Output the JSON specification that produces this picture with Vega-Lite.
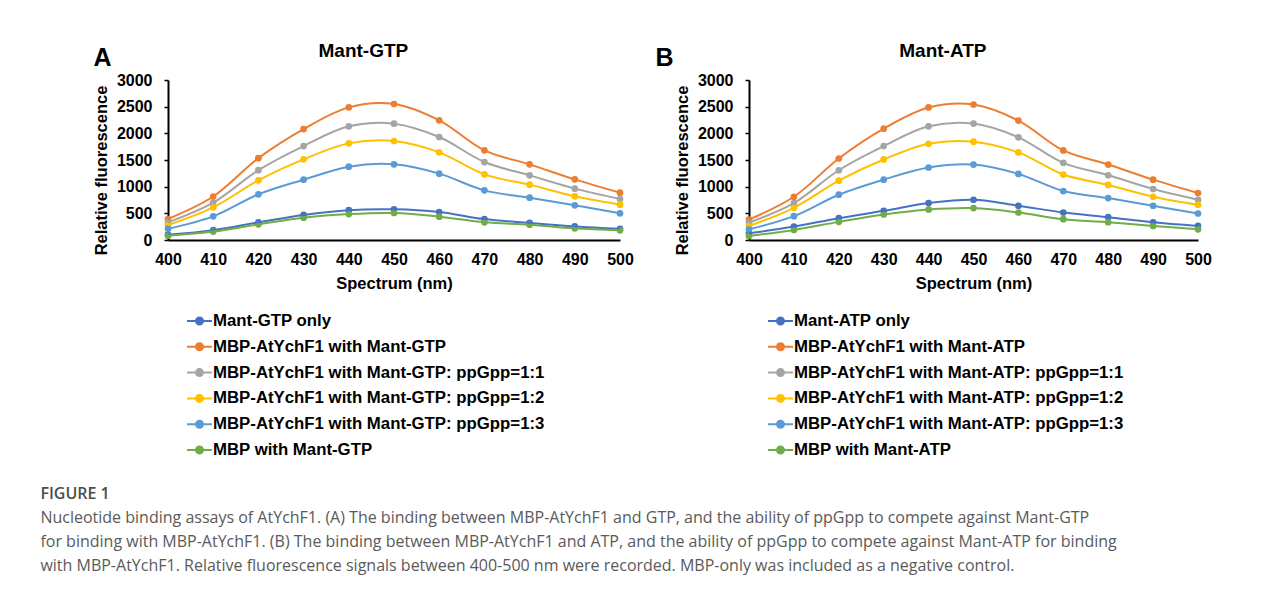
{
"$schema": "https://vega.github.io/schema/vega-lite/v6.json",
"background": "white",
"padding": {"left": 40, "top": 42, "right": 5, "bottom": 5},
"datasets": {
"gtp": [
{"s":"Mant-GTP only","nm":400,"v":100},{"s":"Mant-GTP only","nm":410,"v":185},{"s":"Mant-GTP only","nm":420,"v":330},{"s":"Mant-GTP only","nm":430,"v":470},{"s":"Mant-GTP only","nm":440,"v":560},{"s":"Mant-GTP only","nm":450,"v":575},{"s":"Mant-GTP only","nm":460,"v":525},{"s":"Mant-GTP only","nm":470,"v":392},{"s":"Mant-GTP only","nm":480,"v":320},{"s":"Mant-GTP only","nm":490,"v":255},{"s":"Mant-GTP only","nm":500,"v":210},
{"s":"MBP-AtYchF1 with Mant-GTP","nm":400,"v":394},{"s":"MBP-AtYchF1 with Mant-GTP","nm":410,"v":815},{"s":"MBP-AtYchF1 with Mant-GTP","nm":420,"v":1535},{"s":"MBP-AtYchF1 with Mant-GTP","nm":430,"v":2080},{"s":"MBP-AtYchF1 with Mant-GTP","nm":440,"v":2487},{"s":"MBP-AtYchF1 with Mant-GTP","nm":450,"v":2550},{"s":"MBP-AtYchF1 with Mant-GTP","nm":460,"v":2243},{"s":"MBP-AtYchF1 with Mant-GTP","nm":470,"v":1681},{"s":"MBP-AtYchF1 with Mant-GTP","nm":480,"v":1418},{"s":"MBP-AtYchF1 with Mant-GTP","nm":490,"v":1137},{"s":"MBP-AtYchF1 with Mant-GTP","nm":500,"v":888},
{"s":"MBP-AtYchF1 with Mant-GTP: ppGpp=1:1","nm":400,"v":331},{"s":"MBP-AtYchF1 with Mant-GTP: ppGpp=1:1","nm":410,"v":700},{"s":"MBP-AtYchF1 with Mant-GTP: ppGpp=1:1","nm":420,"v":1310},{"s":"MBP-AtYchF1 with Mant-GTP: ppGpp=1:1","nm":430,"v":1762},{"s":"MBP-AtYchF1 with Mant-GTP: ppGpp=1:1","nm":440,"v":2131},{"s":"MBP-AtYchF1 with Mant-GTP: ppGpp=1:1","nm":450,"v":2181},{"s":"MBP-AtYchF1 with Mant-GTP: ppGpp=1:1","nm":460,"v":1931},{"s":"MBP-AtYchF1 with Mant-GTP: ppGpp=1:1","nm":470,"v":1462},{"s":"MBP-AtYchF1 with Mant-GTP: ppGpp=1:1","nm":480,"v":1212},{"s":"MBP-AtYchF1 with Mant-GTP: ppGpp=1:1","nm":490,"v":963},{"s":"MBP-AtYchF1 with Mant-GTP: ppGpp=1:1","nm":500,"v":769},
{"s":"MBP-AtYchF1 with Mant-GTP: ppGpp=1:2","nm":400,"v":281},{"s":"MBP-AtYchF1 with Mant-GTP: ppGpp=1:2","nm":410,"v":612},{"s":"MBP-AtYchF1 with Mant-GTP: ppGpp=1:2","nm":420,"v":1119},{"s":"MBP-AtYchF1 with Mant-GTP: ppGpp=1:2","nm":430,"v":1512},{"s":"MBP-AtYchF1 with Mant-GTP: ppGpp=1:2","nm":440,"v":1812},{"s":"MBP-AtYchF1 with Mant-GTP: ppGpp=1:2","nm":450,"v":1856},{"s":"MBP-AtYchF1 with Mant-GTP: ppGpp=1:2","nm":460,"v":1643},{"s":"MBP-AtYchF1 with Mant-GTP: ppGpp=1:2","nm":470,"v":1231},{"s":"MBP-AtYchF1 with Mant-GTP: ppGpp=1:2","nm":480,"v":1038},{"s":"MBP-AtYchF1 with Mant-GTP: ppGpp=1:2","nm":490,"v":819},{"s":"MBP-AtYchF1 with Mant-GTP: ppGpp=1:2","nm":500,"v":663},
{"s":"MBP-AtYchF1 with Mant-GTP: ppGpp=1:3","nm":400,"v":212},{"s":"MBP-AtYchF1 with Mant-GTP: ppGpp=1:3","nm":410,"v":444},{"s":"MBP-AtYchF1 with Mant-GTP: ppGpp=1:3","nm":420,"v":856},{"s":"MBP-AtYchF1 with Mant-GTP: ppGpp=1:3","nm":430,"v":1131},{"s":"MBP-AtYchF1 with Mant-GTP: ppGpp=1:3","nm":440,"v":1375},{"s":"MBP-AtYchF1 with Mant-GTP: ppGpp=1:3","nm":450,"v":1419},{"s":"MBP-AtYchF1 with Mant-GTP: ppGpp=1:3","nm":460,"v":1244},{"s":"MBP-AtYchF1 with Mant-GTP: ppGpp=1:3","nm":470,"v":931},{"s":"MBP-AtYchF1 with Mant-GTP: ppGpp=1:3","nm":480,"v":794},{"s":"MBP-AtYchF1 with Mant-GTP: ppGpp=1:3","nm":490,"v":650},{"s":"MBP-AtYchF1 with Mant-GTP: ppGpp=1:3","nm":500,"v":500},
{"s":"MBP with Mant-GTP","nm":400,"v":80},{"s":"MBP with Mant-GTP","nm":410,"v":158},{"s":"MBP with Mant-GTP","nm":420,"v":294},{"s":"MBP with Mant-GTP","nm":430,"v":419},{"s":"MBP with Mant-GTP","nm":440,"v":487},{"s":"MBP with Mant-GTP","nm":450,"v":506},{"s":"MBP with Mant-GTP","nm":460,"v":438},{"s":"MBP with Mant-GTP","nm":470,"v":331},{"s":"MBP with Mant-GTP","nm":480,"v":288},{"s":"MBP with Mant-GTP","nm":490,"v":219},{"s":"MBP with Mant-GTP","nm":500,"v":181}
],
"atp": [
{"s":"Mant-ATP only","nm":400,"v":126},{"s":"Mant-ATP only","nm":410,"v":252},{"s":"Mant-ATP only","nm":420,"v":409},{"s":"Mant-ATP only","nm":430,"v":547},{"s":"Mant-ATP only","nm":440,"v":692},{"s":"Mant-ATP only","nm":450,"v":755},{"s":"Mant-ATP only","nm":460,"v":642},{"s":"Mant-ATP only","nm":470,"v":516},{"s":"Mant-ATP only","nm":480,"v":428},{"s":"Mant-ATP only","nm":490,"v":333},{"s":"Mant-ATP only","nm":500,"v":264},
{"s":"MBP-AtYchF1 with Mant-ATP","nm":400,"v":384},{"s":"MBP-AtYchF1 with Mant-ATP","nm":410,"v":811},{"s":"MBP-AtYchF1 with Mant-ATP","nm":420,"v":1528},{"s":"MBP-AtYchF1 with Mant-ATP","nm":430,"v":2088},{"s":"MBP-AtYchF1 with Mant-ATP","nm":440,"v":2485},{"s":"MBP-AtYchF1 with Mant-ATP","nm":450,"v":2541},{"s":"MBP-AtYchF1 with Mant-ATP","nm":460,"v":2239},{"s":"MBP-AtYchF1 with Mant-ATP","nm":470,"v":1679},{"s":"MBP-AtYchF1 with Mant-ATP","nm":480,"v":1415},{"s":"MBP-AtYchF1 with Mant-ATP","nm":490,"v":1132},{"s":"MBP-AtYchF1 with Mant-ATP","nm":500,"v":881},
{"s":"MBP-AtYchF1 with Mant-ATP: ppGpp=1:1","nm":400,"v":327},{"s":"MBP-AtYchF1 with Mant-ATP: ppGpp=1:1","nm":410,"v":692},{"s":"MBP-AtYchF1 with Mant-ATP: ppGpp=1:1","nm":420,"v":1308},{"s":"MBP-AtYchF1 with Mant-ATP: ppGpp=1:1","nm":430,"v":1761},{"s":"MBP-AtYchF1 with Mant-ATP: ppGpp=1:1","nm":440,"v":2132},{"s":"MBP-AtYchF1 with Mant-ATP: ppGpp=1:1","nm":450,"v":2183},{"s":"MBP-AtYchF1 with Mant-ATP: ppGpp=1:1","nm":460,"v":1925},{"s":"MBP-AtYchF1 with Mant-ATP: ppGpp=1:1","nm":470,"v":1447},{"s":"MBP-AtYchF1 with Mant-ATP: ppGpp=1:1","nm":480,"v":1214},{"s":"MBP-AtYchF1 with Mant-ATP: ppGpp=1:1","nm":490,"v":956},{"s":"MBP-AtYchF1 with Mant-ATP: ppGpp=1:1","nm":500,"v":755},
{"s":"MBP-AtYchF1 with Mant-ATP: ppGpp=1:2","nm":400,"v":264},{"s":"MBP-AtYchF1 with Mant-ATP: ppGpp=1:2","nm":410,"v":604},{"s":"MBP-AtYchF1 with Mant-ATP: ppGpp=1:2","nm":420,"v":1113},{"s":"MBP-AtYchF1 with Mant-ATP: ppGpp=1:2","nm":430,"v":1510},{"s":"MBP-AtYchF1 with Mant-ATP: ppGpp=1:2","nm":440,"v":1805},{"s":"MBP-AtYchF1 with Mant-ATP: ppGpp=1:2","nm":450,"v":1843},{"s":"MBP-AtYchF1 with Mant-ATP: ppGpp=1:2","nm":460,"v":1642},{"s":"MBP-AtYchF1 with Mant-ATP: ppGpp=1:2","nm":470,"v":1227},{"s":"MBP-AtYchF1 with Mant-ATP: ppGpp=1:2","nm":480,"v":1032},{"s":"MBP-AtYchF1 with Mant-ATP: ppGpp=1:2","nm":490,"v":811},{"s":"MBP-AtYchF1 with Mant-ATP: ppGpp=1:2","nm":500,"v":660},
{"s":"MBP-AtYchF1 with Mant-ATP: ppGpp=1:3","nm":400,"v":201},{"s":"MBP-AtYchF1 with Mant-ATP: ppGpp=1:3","nm":410,"v":447},{"s":"MBP-AtYchF1 with Mant-ATP: ppGpp=1:3","nm":420,"v":849},{"s":"MBP-AtYchF1 with Mant-ATP: ppGpp=1:3","nm":430,"v":1132},{"s":"MBP-AtYchF1 with Mant-ATP: ppGpp=1:3","nm":440,"v":1359},{"s":"MBP-AtYchF1 with Mant-ATP: ppGpp=1:3","nm":450,"v":1415},{"s":"MBP-AtYchF1 with Mant-ATP: ppGpp=1:3","nm":460,"v":1239},{"s":"MBP-AtYchF1 with Mant-ATP: ppGpp=1:3","nm":470,"v":918},{"s":"MBP-AtYchF1 with Mant-ATP: ppGpp=1:3","nm":480,"v":786},{"s":"MBP-AtYchF1 with Mant-ATP: ppGpp=1:3","nm":490,"v":642},{"s":"MBP-AtYchF1 with Mant-ATP: ppGpp=1:3","nm":500,"v":497},
{"s":"MBP with Mant-ATP","nm":400,"v":75},{"s":"MBP with Mant-ATP","nm":410,"v":189},{"s":"MBP with Mant-ATP","nm":420,"v":340},{"s":"MBP with Mant-ATP","nm":430,"v":478},{"s":"MBP with Mant-ATP","nm":440,"v":572},{"s":"MBP with Mant-ATP","nm":450,"v":598},{"s":"MBP with Mant-ATP","nm":460,"v":516},{"s":"MBP with Mant-ATP","nm":470,"v":390},{"s":"MBP with Mant-ATP","nm":480,"v":333},{"s":"MBP with Mant-ATP","nm":490,"v":264},{"s":"MBP with Mant-ATP","nm":500,"v":201}
]
},
"title": {
"text": "FIGURE 1",
"subtitle": [
"Nucleotide binding assays of AtYchF1. (A) The binding between MBP-AtYchF1 and GTP, and the ability of ppGpp to compete against Mant-GTP",
"for binding with MBP-AtYchF1. (B) The binding between MBP-AtYchF1 and ATP, and the ability of ppGpp to compete against Mant-ATP for binding",
"with MBP-AtYchF1. Relative fluorescence signals between 400-500 nm were recorded. MBP-only was included as a negative control."
],
"orient": "bottom", "anchor": "start", "frame": "bounds", "offset": 26, "dx": -53,
"font": "Open Sans", "fontSize": 16, "fontWeight": 600, "color": "#4d4d4d",
"subtitleFont": "Open Sans", "subtitleFontSize": 16, "subtitleColor": "#5a5a5a", "subtitleLineHeight": 24, "subtitlePadding": 8
},
"resolve": {"scale": {"color": "independent"}, "legend": {"color": "independent"}},
"spacing": 21,
"hconcat": [
{
"title": {"text": "A", "anchor": "start", "frame": "bounds", "fontSize": 25, "fontWeight": "bold", "offset": -29},
"vconcat": [
{
"data": {"name": "gtp"},
"width": 452, "height": 160,
"title": {"text": "Mant-GTP", "fontSize": 19, "fontWeight": "bold", "anchor": "middle", "frame": "bounds", "offset": 11},
"encoding": {
"x": {"field": "nm", "type": "quantitative", "scale": {"domain": [400, 500], "nice": false, "zero": false},
"axis": {"values": [400,410,420,430,440,450,460,470,480,490,500], "ticks": false, "labelPadding": 11, "labelFlush": false, "title": "Spectrum (nm)", "titlePadding": 8}},
"y": {"field": "v", "type": "quantitative", "scale": {"domain": [0, 3000], "nice": false},
"axis": {"values": [0,500,1000,1500,2000,2500,3000], "format": "d", "tickSize": 4, "labelPadding": 12, "title": "Relative fluorescence", "titlePadding": 7, "titleY": 90}},
"color": {"field": "s", "type": "nominal",
"scale": {"domain": ["Mant-GTP only","MBP-AtYchF1 with Mant-GTP","MBP-AtYchF1 with Mant-GTP: ppGpp=1:1","MBP-AtYchF1 with Mant-GTP: ppGpp=1:2","MBP-AtYchF1 with Mant-GTP: ppGpp=1:3","MBP with Mant-GTP"],
"range": ["#4472C4","#ED7D31","#A5A5A5","#FFC000","#5B9BD5","#70AD47"]},
"legend": {"title": null, "orient": "none", "legendX": 18, "legendY": 227.5, "direction": "vertical",
"symbolType": "M-1,0L1,0M-0.28,0A0.28,0.28,0,1,1,0.28,0A0.28,0.28,0,1,1,-0.28,0Z", "symbolSize": 625, "symbolStrokeWidth": 2, "rowPadding": 2.8, "labelOffset": 0}}
},
"layer": [
{"mark": {"type": "point", "filled": true, "size": 45, "opacity": 1}},
{"mark": {"type": "line", "interpolate": "catmull-rom", "strokeWidth": 2}}
]
}
]
},
{
"title": {"text": "B", "anchor": "start", "frame": "bounds", "fontSize": 25, "fontWeight": "bold", "offset": -29, "dx": -19},
"vconcat": [
{
"data": {"name": "atp"},
"width": 449, "height": 160,
"title": {"text": "Mant-ATP", "fontSize": 19, "fontWeight": "bold", "anchor": "middle", "frame": "bounds", "offset": 11},
"encoding": {
"x": {"field": "nm", "type": "quantitative", "scale": {"domain": [400, 500], "nice": false, "zero": false},
"axis": {"values": [400,410,420,430,440,450,460,470,480,490,500], "ticks": false, "labelPadding": 11, "labelFlush": false, "title": "Spectrum (nm)", "titlePadding": 8}},
"y": {"field": "v", "type": "quantitative", "scale": {"domain": [0, 3000], "nice": false},
"axis": {"values": [0,500,1000,1500,2000,2500,3000], "format": "d", "tickSize": 4, "labelPadding": 12, "title": "Relative fluorescence", "titlePadding": 7, "titleY": 90}},
"color": {"field": "s", "type": "nominal",
"scale": {"domain": ["Mant-ATP only","MBP-AtYchF1 with Mant-ATP","MBP-AtYchF1 with Mant-ATP: ppGpp=1:1","MBP-AtYchF1 with Mant-ATP: ppGpp=1:2","MBP-AtYchF1 with Mant-ATP: ppGpp=1:3","MBP with Mant-ATP"],
"range": ["#4472C4","#ED7D31","#A5A5A5","#FFC000","#5B9BD5","#70AD47"]},
"legend": {"title": null, "orient": "none", "legendX": 18, "legendY": 227.5, "direction": "vertical",
"symbolType": "M-1,0L1,0M-0.28,0A0.28,0.28,0,1,1,0.28,0A0.28,0.28,0,1,1,-0.28,0Z", "symbolSize": 625, "symbolStrokeWidth": 2, "rowPadding": 2.8, "labelOffset": 0}}
},
"layer": [
{"mark": {"type": "point", "filled": true, "size": 45, "opacity": 1}},
{"mark": {"type": "line", "interpolate": "catmull-rom", "strokeWidth": 2}}
]
}
]
}
],
"config": {
"font": "Liberation Sans",
"view": {"stroke": null},
"axis": {"labelFont": "Liberation Sans", "labelFontSize": 16, "labelFontWeight": "bold", "labelColor": "#000000", "titleFont": "Liberation Sans", "titleFontSize": 16.5, "titleFontWeight": "bold", "titleColor": "#000000", "domainColor": "#000000", "domainWidth": 2, "tickColor": "#000000", "tickWidth": 1.5, "grid": false},
"legend": {"labelFont": "Liberation Sans", "labelFontSize": 16.8, "labelFontWeight": "bold", "labelColor": "#000000", "labelLimit": 0},
"title": {"font": "Liberation Sans", "color": "#000000"}
}
}
